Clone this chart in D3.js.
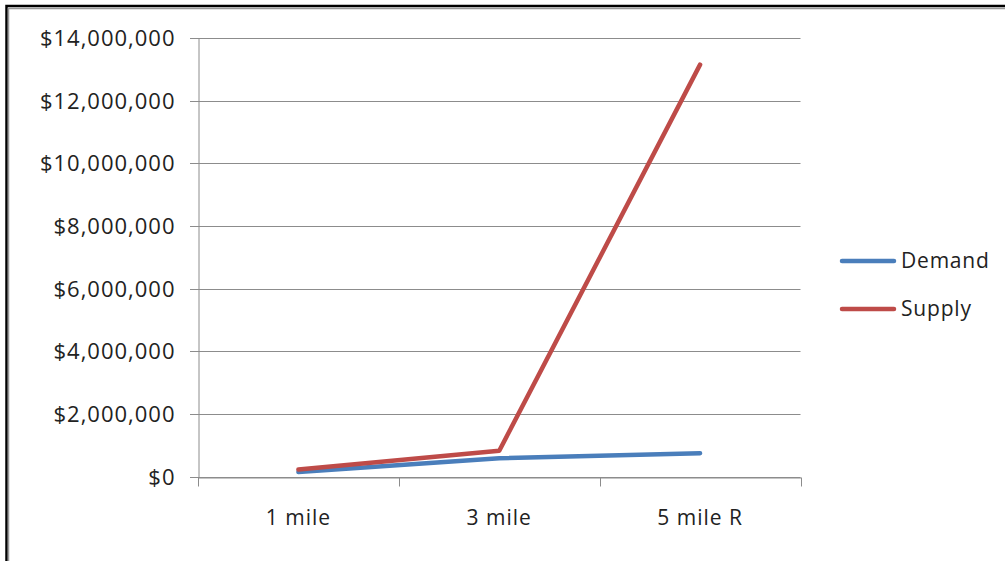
<!DOCTYPE html>
<html><head><meta charset="utf-8">
<script src="https://cdn.jsdelivr.net/npm/d3@7"></script>
<style>
html,body{margin:0;padding:0;background:#fff;overflow:hidden;}
text{font-family:"Open Sans",sans-serif;fill:#222;}
</style></head>
<body><svg id="c" width="1005" height="561"></svg>
<script>
const categories = ["1 mile", "3 mile", "5 mile R"];
const demand = [140000, 580000, 740000];
const supply = [220000, 820000, 13150000];
const yTicks = [0, 2000000, 4000000, 6000000, 8000000, 10000000, 12000000, 14000000];
const seriesNames = ["Demand", "Supply"];
const seriesColors = ["#4A7EBB", "#BE4B48"];

const svg = d3.select("#c");
// outer frame (only left and top edges visible)
svg.append("rect").attr("x", 6.5).attr("y", 6).attr("width", 1100).attr("height", 700)
  .attr("fill", "none").attr("stroke", "#000").attr("stroke-width", 2.5);
svg.append("path").attr("d", "M8.5,1000V8.5H1100").attr("fill", "none")
  .attr("stroke", "#999").attr("stroke-width", 1.5);

const L = 198, R = 800.5, T = 38, B = 476.5;
const x = d3.scaleBand().domain(categories).range([L, R]);
const y = d3.scaleLinear().domain([0, 14000000]).range([B, T]);

// gridlines
svg.append("g").selectAll("line").data(yTicks).join("line")
  .attr("x1", L - 8).attr("x2", R)
  .attr("y1", d => Math.round(y(d)) + 0.5).attr("y2", d => Math.round(y(d)) + 0.5)
  .attr("stroke", "#8c8c8c").attr("stroke-width", 1);

// y axis
const yAxis = d3.axisLeft(y).tickValues(yTicks).tickSize(0).tickPadding(23)
  .tickFormat(d => "$" + d3.format(",")(d));
const gy = svg.append("g").attr("transform", `translate(${L + 0.5},0)`).call(yAxis);
gy.select(".domain").attr("stroke", "#8c8c8c");
gy.selectAll("text").attr("font-size", 22).attr("letter-spacing", "1px")
  .attr("font-family", "Open Sans").attr("fill", "#222").attr("dy", "0.35em");

// x axis
const xAxis = d3.axisBottom(x).tickSize(0).tickPadding(33);
const gx = svg.append("g").attr("transform", `translate(0,${Math.round(B) + 0.5})`).call(xAxis);
gx.select(".domain").attr("stroke", "#8c8c8c");
gx.selectAll("text").attr("font-size", 21).attr("letter-spacing", "1px")
  .attr("font-family", "Open Sans").attr("fill", "#222");
// category boundary ticks
const bounds = categories.map(c => x(c)).concat([x(categories[categories.length - 1]) + x.bandwidth()]);
gx.append("g").selectAll("line").data(bounds).join("line")
  .attr("x1", d => Math.round(d) + 0.5).attr("x2", d => Math.round(d) + 0.5)
  .attr("y1", 0).attr("y2", 9).attr("stroke", "#8c8c8c");

const cx = c => x(c) + x.bandwidth() / 2;
const line = d3.line().x((d, i) => cx(categories[i])).y(d => y(d));
[demand, supply].forEach((s, k) => {
  svg.append("path").datum(s).attr("d", line).attr("fill", "none")
    .attr("stroke", seriesColors[k]).attr("stroke-width", 4.5)
    .attr("stroke-linejoin", "round").attr("stroke-linecap", "round");
});

// legend
const lg = svg.append("g").selectAll("g").data(seriesNames).join("g")
  .attr("transform", (d, i) => `translate(842,${261 + i * 48})`);
lg.append("line").attr("x1", 0).attr("x2", 52).attr("y1", 0).attr("y2", 0)
  .attr("stroke", (d, i) => seriesColors[i]).attr("stroke-width", 4.5).attr("stroke-linecap", "round");
lg.append("text").attr("x", 59).attr("dy", "0.35em").attr("font-size", 21)
  .attr("letter-spacing", "0.8px").text(d => d);
</script></body></html>
